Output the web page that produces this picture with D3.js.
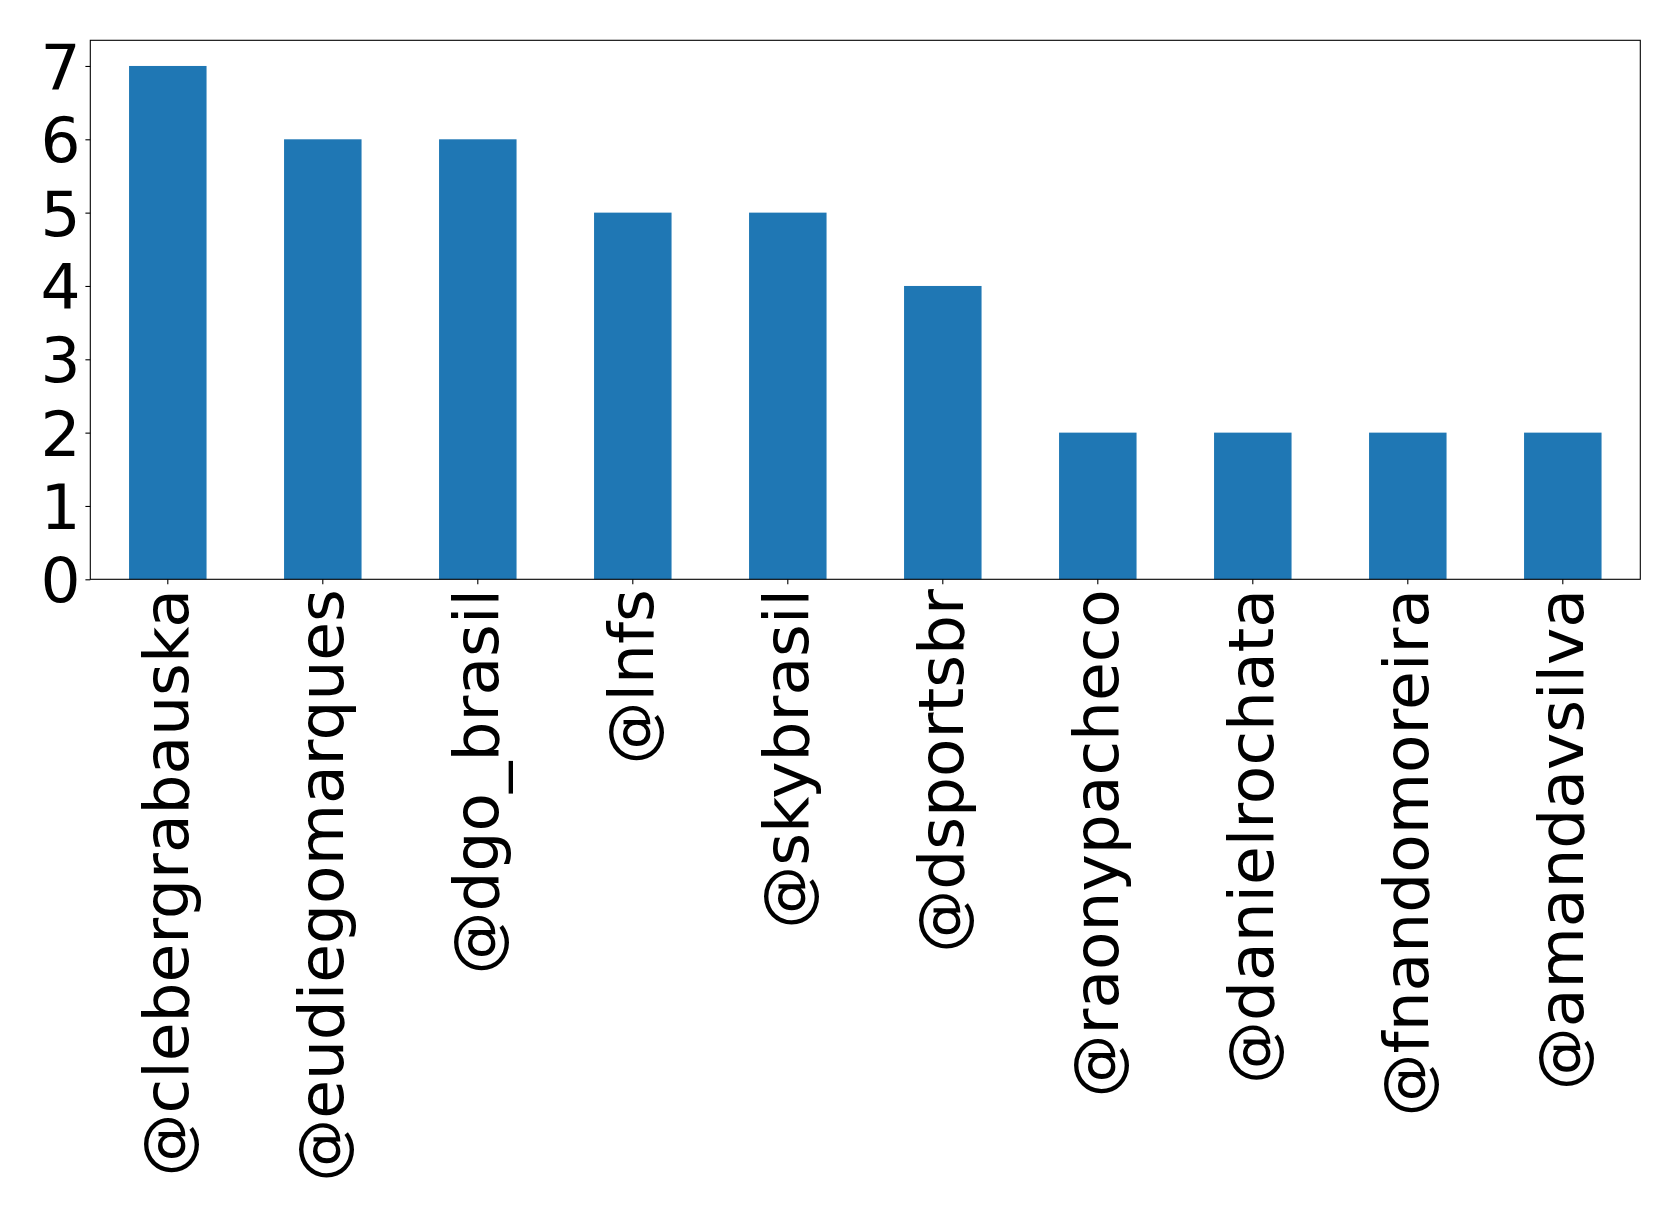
<!DOCTYPE html>
<html>
<head>
<meta charset="utf-8">
<script src="https://cdn.jsdelivr.net/npm/d3@7"></script>
<style>
  html, body { margin: 0; padding: 0; background: #fff; }
  svg { display: block; }
  text { font-family: "DejaVu Sans", sans-serif; fill: #000; }
</style>
</head>
<body>
<svg id="chart" width="1679" height="1216"></svg>
<script>
const categories = ["@clebergrabauska", "@eudiegomarques", "@dgo_brasil", "@lnfs", "@skybrasil",
                    "@dsportsbr", "@raonypacheco", "@danielrochata", "@fnandomoreira", "@amandavsilva"];
const values = [7, 6, 6, 5, 5, 4, 2, 2, 2, 2];
const yTicks = [0, 1, 2, 3, 4, 5, 6, 7];

const W = 1679, H = 1216;
const margin = { left: 90.3, right: W - 1640.3, top: 40.3, bottom: H - 579.3 };
const innerW = W - margin.left - margin.right;
const innerH = H - margin.top - margin.bottom;
const fontSize = 63;
const tickLen = 4.9, pad = 4.9;

const svg = d3.select("#chart");
const g = svg.append("g").attr("transform", `translate(${margin.left},${margin.top})`);

const x = d3.scaleBand().domain(categories).range([0, innerW]).paddingInner(0.5).paddingOuter(0.25);
const y = d3.scaleLinear().domain([0, d3.max(values) * 1.05]).range([innerH, 0]);

g.selectAll("rect.bar").data(categories).enter().append("rect")
  .attr("class", "bar")
  .attr("x", d => x(d))
  .attr("width", x.bandwidth())
  .attr("y", (d, i) => y(values[i]))
  .attr("height", (d, i) => y(0) - y(values[i]))
  .attr("fill", "#1f77b4");

// frame
g.append("rect").attr("x", 0).attr("y", 0).attr("width", innerW).attr("height", innerH)
  .attr("fill", "none").attr("stroke", "#000").attr("stroke-width", 1.1);

// y axis
const yAxis = d3.axisLeft(y).tickValues(yTicks).tickFormat(d3.format("d")).tickSize(tickLen).tickPadding(pad);
const ya = g.append("g").call(yAxis);
ya.select(".domain").remove();
ya.selectAll(".tick line").attr("stroke", "#000").attr("stroke-width", 1.1);
ya.selectAll(".tick text").attr("font-size", fontSize).attr("dy", "0.36em")
  .style("font-family", "'DejaVu Sans', sans-serif");

// x axis
const xAxis = d3.axisBottom(x).tickSize(tickLen).tickPadding(pad);
const xa = g.append("g").attr("transform", `translate(0,${innerH})`).call(xAxis);
xa.select(".domain").remove();
xa.selectAll(".tick line").attr("stroke", "#000").attr("stroke-width", 1.1);
xa.selectAll(".tick text")
  .attr("font-size", fontSize)
  .style("font-family", "'DejaVu Sans', sans-serif")
  .attr("text-anchor", "end")
  .attr("transform", `rotate(-90)`)
  .attr("x", -(tickLen + pad))
  .attr("y", 0)
  .attr("dy", "0.32em");
</script>
</body>
</html>
